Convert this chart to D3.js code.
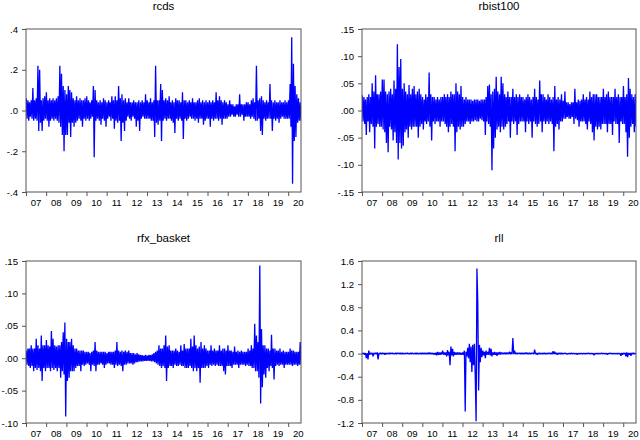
<!DOCTYPE html>
<html lang="en">
<head>
<meta charset="UTF-8">
<title>rcds / rbist100 / rfx_basket / rll</title>
<script src="https://d3js.org/d3.v7.min.js"></script>
<style>
  body { margin: 0; background: #fff; }
  text { font-family: "Liberation Sans", Arial, sans-serif; }
</style>
</head>
<body>
<svg width="640" height="440"></svg>
<script>
// two readings per month (early / late), Jan 2007 .. Aug 2020
const rcds = [
  0.06,-0.04, 0.05,-0.05, 0.04,-0.03, 0.05,-0.04, 0.11,-0.05, 0.05,-0.04, 0.06,-0.05, 0.22,-0.10, 0.20,-0.06, 0.05,-0.10, 0.06,-0.05, 0.07,-0.04, // 07
  0.09,-0.05, 0.05,-0.08, 0.06,-0.05, 0.05,-0.04, 0.06,-0.05, 0.05,-0.04, 0.06,-0.05, 0.07,-0.06, 0.22,-0.08, 0.18,-0.12, 0.12,-0.20, 0.10,-0.12, // 08
  0.08,-0.12, 0.12,-0.06, 0.10,-0.13, 0.09,-0.06, 0.06,-0.08, 0.05,-0.06, 0.07,-0.05, 0.05,-0.04, 0.06,-0.05, 0.05,-0.08, 0.05,-0.04, 0.06,-0.05, // 09
  0.07,-0.04, 0.05,-0.05, 0.04,-0.04, 0.05,-0.03, 0.12,-0.23, 0.10,-0.05, 0.05,-0.04, 0.04,-0.05, 0.05,-0.07, 0.04,-0.04, 0.06,-0.05, 0.05,-0.08, // 10
  0.04,-0.04, 0.05,-0.03, 0.04,-0.05, 0.07,-0.04, 0.05,-0.09, 0.07,-0.05, 0.05,-0.06, 0.12,-0.05, 0.06,-0.15, 0.08,-0.06, 0.05,-0.10, 0.06,-0.05, // 11
  0.04,-0.03, 0.06,-0.04, 0.04,-0.05, 0.04,-0.03, 0.05,-0.04, 0.04,-0.08, 0.04,-0.05, 0.05,-0.10, 0.04,-0.04, 0.05,-0.03, 0.04,-0.04, 0.08,-0.04, // 12
  0.05,-0.04, 0.04,-0.04, 0.06,-0.05, 0.04,-0.05, 0.05,-0.13, 0.22,-0.06, 0.05,-0.07, 0.05,-0.05, 0.13,-0.15, 0.10,-0.05, 0.05,-0.04, 0.06,-0.05, // 13
  0.05,-0.04, 0.07,-0.04, 0.04,-0.05, 0.05,-0.06, 0.04,-0.11, 0.06,-0.04, 0.05,-0.05, 0.05,-0.04, 0.04,-0.05, 0.09,-0.14, 0.05,-0.04, 0.05,-0.05, // 14
  0.04,-0.04, 0.05,-0.03, 0.04,-0.04, 0.06,-0.04, 0.04,-0.05, 0.04,-0.04, 0.05,-0.06, 0.06,-0.04, 0.04,-0.04, 0.05,-0.07, 0.04,-0.05, 0.05,-0.04, // 15
  0.04,-0.04, 0.05,-0.08, 0.04,-0.04, 0.05,-0.05, 0.04,-0.04, 0.09,-0.04, 0.05,-0.05, 0.07,-0.04, 0.05,-0.07, 0.04,-0.04, 0.05,-0.04, 0.04,-0.04, // 16
  0.03,-0.03, 0.05,-0.03, 0.03,-0.02, 0.03,-0.03, 0.02,-0.03, 0.03,-0.02, 0.03,-0.03, 0.08,-0.03, 0.03,-0.02, 0.03,-0.05, 0.03,-0.03, 0.04,-0.03, // 17
  0.04,-0.03, 0.03,-0.04, 0.05,-0.03, 0.06,-0.04, 0.04,-0.05, 0.22,-0.05, 0.05,-0.04, 0.06,-0.10, 0.07,-0.12, 0.05,-0.04, 0.04,-0.05, 0.05,-0.04, // 18
  0.04,-0.04, 0.13,-0.04, 0.05,-0.10, 0.04,-0.04, 0.05,-0.05, 0.04,-0.04, 0.04,-0.06, 0.05,-0.04, 0.04,-0.03, 0.04,-0.04, 0.05,-0.04, 0.04,-0.04, // 19
  0.05,-0.04, 0.13,-0.08, 0.36,-0.36, 0.23,-0.15, 0.12,-0.13, 0.08,-0.06, 0.06,-0.05, 0.04,-0.05  // 20
];

const rbist100 = [
  0.028,-0.02, 0.025,-0.025, 0.02,-0.045, 0.025,-0.02, 0.03,-0.04, 0.025,-0.025, 0.05,-0.03, 0.035,-0.07, 0.065,-0.03, 0.03,-0.025, 0.03,-0.03, 0.035,-0.03, // 07
  0.057,-0.035, 0.057,-0.04, 0.035,-0.06, 0.03,-0.077, 0.035,-0.03, 0.04,-0.035, 0.03,-0.055, 0.055,-0.04, 0.04,-0.06, 0.122,-0.09, 0.08,-0.06, 0.095,-0.07, // 08
  0.04,-0.065, 0.05,-0.04, 0.035,-0.035, 0.03,-0.05, 0.047,-0.03, 0.03,-0.035, 0.04,-0.03, 0.045,-0.03, 0.03,-0.03, 0.035,-0.05, 0.04,-0.03, 0.03,-0.025, // 09
  0.025,-0.035, 0.02,-0.02, 0.03,-0.025, 0.025,-0.02, 0.07,-0.03, 0.03,-0.055, 0.025,-0.02, 0.025,-0.025, 0.02,-0.02, 0.025,-0.02, 0.02,-0.03, 0.025,-0.02, // 10
  0.025,-0.02, 0.03,-0.025, 0.025,-0.03, 0.03,-0.04, 0.025,-0.03, 0.035,-0.025, 0.03,-0.03, 0.03,-0.075, 0.05,-0.04, 0.035,-0.03, 0.03,-0.035, 0.045,-0.03, // 11
  0.025,-0.03, 0.02,-0.025, 0.025,-0.02, 0.02,-0.02, 0.02,-0.025, 0.02,-0.02, 0.018,-0.02, 0.02,-0.018, 0.02,-0.02, 0.02,-0.02, 0.018,-0.015, 0.02,-0.018, // 12
  0.02,-0.02, 0.02,-0.045, 0.025,-0.02, 0.045,-0.025, 0.048,-0.03, 0.03,-0.11, 0.035,-0.07, 0.04,-0.05, 0.062,-0.035, 0.035,-0.03, 0.03,-0.04, 0.062,-0.03, // 13
  0.05,-0.035, 0.03,-0.03, 0.025,-0.025, 0.035,-0.02, 0.025,-0.05, 0.025,-0.02, 0.04,-0.025, 0.025,-0.02, 0.03,-0.045, 0.025,-0.025, 0.03,-0.02, 0.025,-0.02, // 14
  0.025,-0.02, 0.02,-0.04, 0.025,-0.02, 0.03,-0.025, 0.025,-0.02, 0.02,-0.05, 0.025,-0.02, 0.04,-0.025, 0.025,-0.03, 0.02,-0.025, 0.055,-0.02, 0.03,-0.04, // 15
  0.03,-0.02, 0.025,-0.025, 0.02,-0.02, 0.03,-0.025, 0.025,-0.02, 0.02,-0.025, 0.025,-0.075, 0.045,-0.03, 0.02,-0.025, 0.025,-0.035, 0.02,-0.02, 0.03,-0.02, // 16
  0.018,-0.015, 0.035,-0.015, 0.015,-0.012, 0.015,-0.015, 0.012,-0.015, 0.015,-0.012, 0.015,-0.025, 0.04,-0.015, 0.015,-0.018, 0.02,-0.03, 0.018,-0.02, 0.02,-0.02, // 17
  0.03,-0.02, 0.02,-0.025, 0.025,-0.035, 0.02,-0.02, 0.035,-0.025, 0.025,-0.04, 0.03,-0.055, 0.03,-0.03, 0.03,-0.035, 0.025,-0.03, 0.025,-0.035, 0.025,-0.025, // 18
  0.04,-0.025, 0.025,-0.025, 0.03,-0.04, 0.035,-0.025, 0.025,-0.025, 0.025,-0.045, 0.025,-0.02, 0.04,-0.025, 0.025,-0.025, 0.03,-0.06, 0.025,-0.02, 0.025,-0.025, // 19
  0.045,-0.025, 0.025,-0.04, 0.03,-0.085, 0.06,-0.05, 0.04,-0.03, 0.03,-0.025, 0.025,-0.04, 0.03,-0.03  // 20
];

const rfx_basket = [
  0.012,-0.01, 0.015,-0.012, 0.015,-0.015, 0.02,-0.012, 0.015,-0.02, 0.015,-0.015, 0.03,-0.018, 0.02,-0.015, 0.015,-0.02, 0.035,-0.035, 0.02,-0.015, 0.02,-0.02, // 07
  0.028,-0.015, 0.02,-0.015, 0.018,-0.02, 0.042,-0.015, 0.03,-0.018, 0.02,-0.015, 0.018,-0.02, 0.02,-0.015, 0.02,-0.03, 0.025,-0.02, 0.04,-0.025, 0.055,-0.09, // 08
  0.03,-0.035, 0.025,-0.03, 0.025,-0.02, 0.03,-0.02, 0.02,-0.02, 0.015,-0.015, 0.015,-0.012, 0.012,-0.012, 0.012,-0.02, 0.012,-0.01, 0.012,-0.012, 0.01,-0.01, // 09
  0.01,-0.008, 0.01,-0.01, 0.008,-0.02, 0.01,-0.01, 0.012,-0.012, 0.025,-0.02, 0.012,-0.01, 0.01,-0.01, 0.01,-0.008, 0.01,-0.01, 0.01,-0.015, 0.01,-0.01, // 10
  0.008,-0.008, 0.01,-0.008, 0.01,-0.01, 0.01,-0.01, 0.01,-0.015, 0.012,-0.01, 0.025,-0.012, 0.012,-0.01, 0.01,-0.012, 0.012,-0.02, 0.01,-0.01, 0.012,-0.01, // 11
  0.01,-0.008, 0.012,-0.008, 0.008,-0.008, 0.008,-0.01, 0.008,-0.008, 0.006,-0.006, 0.008,-0.006, 0.006,-0.005, 0.005,-0.005, 0.005,-0.005, 0.004,-0.004, 0.005,-0.004, // 12
  0.004,-0.004, 0.005,-0.004, 0.005,-0.005, 0.006,-0.005, 0.008,-0.006, 0.01,-0.008, 0.012,-0.01, 0.02,-0.012, 0.015,-0.015, 0.015,-0.012, 0.02,-0.015, 0.035,-0.035, // 13
  0.018,-0.015, 0.02,-0.012, 0.012,-0.012, 0.012,-0.015, 0.012,-0.01, 0.015,-0.012, 0.012,-0.012, 0.01,-0.01, 0.02,-0.012, 0.012,-0.012, 0.022,-0.015, 0.015,-0.015, // 14
  0.015,-0.015, 0.015,-0.012, 0.03,-0.015, 0.018,-0.02, 0.035,-0.015, 0.02,-0.02, 0.015,-0.015, 0.018,-0.038, 0.025,-0.015, 0.015,-0.015, 0.02,-0.015, 0.015,-0.012, // 15
  0.012,-0.015, 0.012,-0.01, 0.02,-0.012, 0.012,-0.01, 0.015,-0.012, 0.012,-0.01, 0.012,-0.012, 0.02,-0.012, 0.012,-0.012, 0.015,-0.02, 0.015,-0.025, 0.012,-0.012, // 16
  0.02,-0.012, 0.012,-0.012, 0.012,-0.015, 0.01,-0.01, 0.018,-0.01, 0.01,-0.01, 0.012,-0.015, 0.01,-0.01, 0.012,-0.01, 0.01,-0.01, 0.01,-0.012, 0.01,-0.01, // 17
  0.015,-0.012, 0.012,-0.012, 0.02,-0.015, 0.015,-0.015, 0.053,-0.02, 0.035,-0.02, 0.025,-0.03, 0.143,-0.07, 0.045,-0.045, 0.02,-0.025, 0.02,-0.03, 0.015,-0.015, // 18
  0.015,-0.02, 0.012,-0.012, 0.036,-0.015, 0.015,-0.033, 0.015,-0.012, 0.012,-0.01, 0.012,-0.012, 0.015,-0.01, 0.01,-0.01, 0.012,-0.015, 0.01,-0.01, 0.01,-0.01, // 19
  0.01,-0.01, 0.015,-0.01, 0.012,-0.012, 0.012,-0.01, 0.01,-0.01, 0.01,-0.012, 0.01,-0.01, 0.025,-0.01  // 20
];

const rll = [
  0.01,-0.01, 0.01,-0.02, 0.01,-0.08, 0.01,-0.1, 0.05,-0.02, 0.01,-0.01, 0.01,-0.05, 0.01,-0.01, 0.01,-0.01, 0.02,-0.1, 0.01,-0.01, 0.01,-0.01, // 07
  0.01,-0.01, 0.01,-0.02, 0.01,-0.01, 0.005,-0.01, 0.015,-0.01, 0.01,-0.005, 0.01,-0.01, 0.005,-0.01, 0.01,-0.01, 0.01,-0.005, 0.01,-0.01, 0.01,-0.01, // 08
  0.01,-0.01, 0.005,-0.01, 0.01,-0.005, 0.01,-0.01, 0.005,-0.01, 0.01,-0.01, 0.01,-0.005, 0.005,-0.01, 0.01,-0.01, 0.01,-0.01, 0.005,-0.01, 0.01,-0.01, // 09
  0.01,-0.01, 0.01,-0.01, 0.01,-0.01, 0.01,-0.01, 0.02,-0.01, 0.01,-0.01, 0.01,-0.015, 0.01,-0.02, 0.015,-0.03, 0.03,-0.02, 0.02,-0.02, 0.02,-0.015, // 10
  0.05,-0.02, 0.02,-0.02, 0.02,-0.05, 0.06,-0.03, 0.03,-0.2, 0.12,-0.03, 0.08,-0.05, 0.03,-0.02, 0.02,-0.02, 0.02,-0.015, 0.02,-0.02, 0.015,-0.02, // 11
  0.02,-0.02, 0.05,-1.0, 0.03,-0.05, 0.1,-0.08, 0.17,-0.15, 0.12,-0.32, 0.15,-0.2, 0.17,-0.38, -1.17,1.47, 0.9,-0.64, 0.15,-0.15, 0.1,-0.06, // 12
  0.05,-0.03, 0.03,-0.08, 0.05,-0.02, 0.03,-0.02, 0.1,-0.03, 0.08,-0.05, 0.02,-0.02, 0.03,-0.02, 0.02,-0.04, 0.02,-0.015, 0.03,-0.015, 0.02,-0.01, // 13
  0.015,-0.01, 0.015,-0.01, 0.02,-0.01, 0.015,-0.01, 0.03,-0.01, 0.02,-0.01, 0.27,-0.01, 0.05,-0.01, 0.01,-0.01, 0.01,-0.005, 0.01,-0.01, 0.01,-0.01, // 14
  0.01,-0.01, 0.01,-0.005, 0.02,-0.01, 0.01,-0.01, 0.01,-0.01, 0.01,-0.005, 0.01,-0.01, 0.07,-0.01, 0.01,-0.02, 0.01,-0.01, 0.01,-0.01, 0.005,-0.01, // 15
  0.01,-0.01, 0.01,-0.01, 0.005,-0.01, 0.01,-0.005, 0.01,-0.01, 0.01,-0.01, 0.04,-0.01, 0.03,-0.01, 0.01,-0.02, 0.01,-0.01, 0.01,-0.01, 0.01,-0.01, // 16
  0.005,-0.005, 0.01,-0.005, 0.005,-0.015, 0.005,-0.005, 0.005,-0.01, 0.01,-0.005, 0.005,-0.005, 0.005,-0.01, 0.005,-0.02, 0.005,-0.005, 0.005,-0.01, 0.005,-0.005, // 17
  0.005,-0.005, 0.005,-0.01, 0.005,-0.005, 0.01,-0.005, 0.005,-0.005, 0.005,-0.01, 0.005,-0.03, 0.005,-0.005, 0.005,-0.01, 0.005,-0.005, 0.005,-0.005, 0.01,-0.005, // 18
  0.005,-0.005, 0.005,-0.01, 0.005,-0.02, 0.005,-0.005, 0.01,-0.005, 0.005,-0.01, 0.005,-0.005, 0.005,-0.01, 0.005,-0.005, 0.005,-0.01, 0.005,-0.04, 0.01,-0.02, // 19
  0.01,-0.01, 0.01,-0.05, 0.02,-0.06, 0.01,-0.02, 0.01,-0.04, 0.01,-0.01, 0.01,-0.01, 0.005,-0.01  // 20
];

const years = d3.range(2007, 2021);
const yearLabels = ["07","08","09","10","11","12","13","14","15","16","17","18","19","20"];

const rcdsTicks = [0.4, 0.2, 0, -0.2, -0.4];
const rcdsLabels = [".4", ".2", ".0", "-.2", "-.4"];
const rbistTicks = [0.15, 0.10, 0.05, 0, -0.05, -0.10, -0.15];
const rbistLabels = [".15", ".10", ".05", ".00", "-.05", "-.10", "-.15"];
const rfxTicks = [0.15, 0.10, 0.05, 0, -0.05, -0.10];
const rfxLabels = [".15", ".10", ".05", ".00", "-.05", "-.10"];
const rllTicks = [1.6, 1.2, 0.8, 0.4, 0, -0.4, -0.8, -1.2];
const rllLabels = ["1.6", "1.2", "0.8", "0.4", "0.0", "-0.4", "-0.8", "-1.2"];

const svg = d3.select("svg");

// panel frames (left, top, right, bottom)
const panels = [
  { title: "rcds",       values: rcds,       ticks: rcdsTicks,  labels: rcdsLabels,  box: [26, 29, 301, 192] },
  { title: "rbist100",   values: rbist100,   ticks: rbistTicks, labels: rbistLabels, box: [362, 29, 636, 192] },
  { title: "rfx_basket", values: rfx_basket, ticks: rfxTicks,   labels: rfxLabels,   box: [26, 261, 301, 423] },
  { title: "rll",        values: rll,        ticks: rllTicks,   labels: rllLabels,   box: [362, 261, 636, 423] }
];

// reading i sits in month i>>1, early or late in the month
const dateOf = i => new Date(2007, i >> 1, i % 2 ? 20 : 5);

panels.forEach((p, k) => {
  const [x0, y0, x1, y1] = p.box;

  const x = d3.scaleTime()
    .domain([new Date(2007, 0, 1), new Date(2020, 7, 20)])
    .range([x0, x1]);

  const y = d3.scaleLinear()
    .domain(d3.extent(p.ticks))
    .range([y1, y0]);

  const g = svg.append("g");

  g.append("clipPath").attr("id", "clip" + k)
    .append("rect")
    .attr("x", x0).attr("y", y0)
    .attr("width", x1 - x0).attr("height", y1 - y0);

  const line = d3.line()
    .x((d, i) => x(dateOf(i)))
    .y(d => y(d));

  g.append("path")
    .datum(p.values)
    .attr("clip-path", "url(#clip" + k + ")")
    .attr("fill", "none")
    .attr("stroke", "#0000ff")
    .attr("stroke-width", 1.3)
    .attr("stroke-linejoin", "bevel")
    .attr("d", line);

  // frame
  g.append("rect")
    .attr("x", x0).attr("y", y0)
    .attr("width", x1 - x0).attr("height", y1 - y0)
    .attr("fill", "none")
    .attr("stroke", "#555")
    .attr("stroke-width", 1);

  // y axis
  const ya = g.append("g")
    .attr("transform", "translate(" + x0 + ",0)")
    .call(d3.axisLeft(y)
      .tickValues(p.ticks)
      .tickFormat((d, i) => p.labels[i])
      .tickSize(4)
      .tickPadding(4));
  ya.select(".domain").remove();
  ya.selectAll("line").attr("stroke", "#555");
  ya.selectAll("text")
    .attr("font-size", "9.6px")
    .attr("fill", "#000")
    .style("font-family", '"Liberation Sans", Arial, sans-serif');

  // x axis: ticks at year starts, labels mid-year
  const xa = g.append("g")
    .attr("transform", "translate(0," + y1 + ")")
    .call(d3.axisBottom(x)
      .tickValues(years.map(yr => new Date(yr, 0, 1)))
      .tickFormat("")
      .tickSize(4));
  xa.select(".domain").remove();
  xa.selectAll("line").attr("stroke", "#555");

  g.selectAll(".yr")
    .data(years)
    .join("text")
    .attr("class", "yr")
    .attr("x", yr => x(new Date(yr, 6, 2)))
    .attr("y", y1 + 14)
    .attr("text-anchor", "middle")
    .attr("font-size", "9.6px")
    .attr("fill", "#000")
    .text((yr, i) => yearLabels[i]);

  // title
  g.append("text")
    .attr("x", (x0 + x1) / 2)
    .attr("y", y0 - 19.5)
    .attr("text-anchor", "middle")
    .attr("font-size", "11.5px")
    .attr("fill", "#000")
    .text(p.title);
});
</script>
</body>
</html>
